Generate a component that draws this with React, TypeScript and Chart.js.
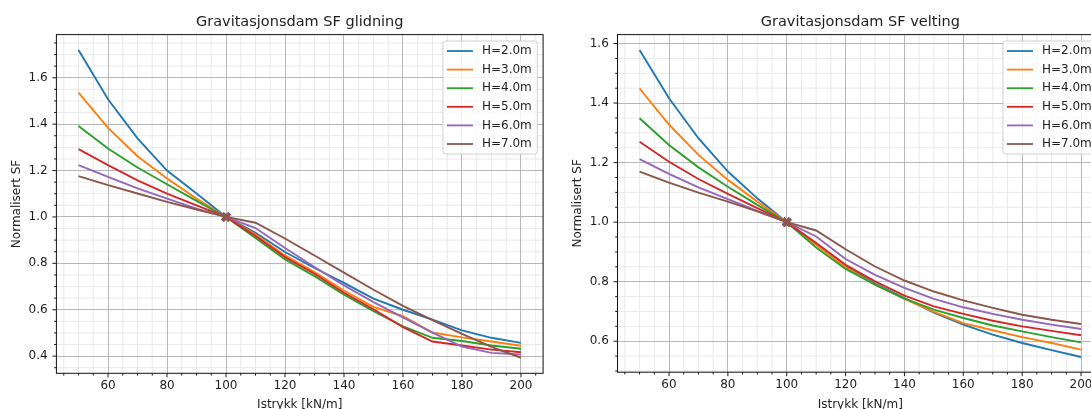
import React, { useEffect, useRef } from "react";
import { Chart, registerables } from "chart.js";

Chart.register(...registerables);

// ---------- data ----------
const istrykk = [50, 60, 70, 80, 90, 100, 110, 120, 130, 140, 150, 160, 170, 180, 190, 200];
const seriesLabels = ["H=2.0m", "H=3.0m", "H=4.0m", "H=5.0m", "H=6.0m", "H=7.0m"];
const seriesColors = ["#1f77b4", "#ff7f0e", "#2ca02c", "#d62728", "#9467bd", "#8c564b"];

const glidningH2 = [1.72, 1.507, 1.339, 1.2, 1.101, 1.0, 0.932, 0.849, 0.78, 0.716, 0.648, 0.6, 0.557, 0.511, 0.479, 0.457];
const glidningH3 = [1.536, 1.384, 1.262, 1.166, 1.079, 1.0, 0.924, 0.834, 0.762, 0.683, 0.612, 0.572, 0.502, 0.481, 0.463, 0.445];
const glidningH4 = [1.392, 1.295, 1.213, 1.141, 1.069, 1.0, 0.909, 0.817, 0.745, 0.665, 0.594, 0.528, 0.479, 0.465, 0.446, 0.432];
const glidningH5 = [1.292, 1.223, 1.158, 1.101, 1.05, 1.0, 0.918, 0.827, 0.755, 0.673, 0.602, 0.525, 0.463, 0.446, 0.428, 0.417];
const glidningH6 = [1.223, 1.173, 1.123, 1.079, 1.036, 1.0, 0.952, 0.866, 0.784, 0.705, 0.633, 0.567, 0.501, 0.441, 0.414, 0.407];
const glidningH7 = [1.176, 1.137, 1.101, 1.065, 1.032, 1.0, 0.975, 0.907, 0.834, 0.76, 0.686, 0.617, 0.555, 0.496, 0.44, 0.393];

const veltingH2 = [1.578, 1.416, 1.282, 1.17, 1.08, 1.0, 0.927, 0.853, 0.794, 0.745, 0.696, 0.656, 0.622, 0.594, 0.57, 0.547];
const veltingH3 = [1.449, 1.328, 1.226, 1.142, 1.069, 1.0, 0.924, 0.849, 0.79, 0.742, 0.699, 0.661, 0.637, 0.614, 0.594, 0.572];
const veltingH4 = [1.349, 1.259, 1.184, 1.119, 1.058, 1.0, 0.915, 0.843, 0.79, 0.743, 0.706, 0.678, 0.653, 0.633, 0.614, 0.596];
const veltingH5 = [1.27, 1.203, 1.145, 1.095, 1.047, 1.0, 0.93, 0.857, 0.801, 0.753, 0.717, 0.692, 0.669, 0.65, 0.635, 0.62];
const veltingH6 = [1.212, 1.162, 1.117, 1.077, 1.038, 1.0, 0.952, 0.876, 0.823, 0.779, 0.742, 0.714, 0.692, 0.672, 0.656, 0.641];
const veltingH7 = [1.17, 1.133, 1.099, 1.069, 1.036, 1.0, 0.972, 0.909, 0.851, 0.804, 0.767, 0.737, 0.712, 0.689, 0.672, 0.658];

const glidningSeries = [glidningH2, glidningH3, glidningH4, glidningH5, glidningH6, glidningH7];
const veltingSeries = [veltingH2, veltingH3, veltingH4, veltingH5, veltingH6, veltingH7];

const xRange = [42.5, 207.5];
const glidningYRange = [0.326, 1.786];
const veltingYRange = [0.496, 1.63];
const xMajorStep = 20;
const xMinorStep = 5;
const yMajorStep = 0.2;
const yMinorStep = 0.05;
const referenceX = 100;

// ---------- styling ----------
const FONT = "'DejaVu Sans', sans-serif";
const FS = 12;
const TEXT = "#1e1e1e";

function isMajor(v: number, step: number) {
  return Math.abs(v / step - Math.round(v / step)) < 1e-6;
}

function stepsIn(min: number, max: number, step: number) {
  const out: number[] = [];
  for (let i = Math.ceil(min / step - 1e-9); i * step <= max + 1e-9; i++) out.push(i * step);
  return out;
}

function roundRect(ctx: CanvasRenderingContext2D, x: number, y: number, w: number, h: number, r: number) {
  ctx.beginPath();
  ctx.moveTo(x + r, y);
  ctx.arcTo(x + w, y, x + w, y + h, r);
  ctx.arcTo(x + w, y + h, x, y + h, r);
  ctx.arcTo(x, y + h, x, y, r);
  ctx.arcTo(x, y, x + w, y, r);
  ctx.closePath();
}

const mplPlugin = {
  id: "mpl",
  beforeDraw(chart: any) {
    const { ctx, chartArea: a, scales } = chart;
    const x = scales.x;
    const y = scales.y;
    ctx.save();
    ctx.strokeStyle = "#e6e6e6";
    ctx.lineWidth = 0.9;
    for (const v of stepsIn(x.min, x.max, xMinorStep)) {
      if (isMajor(v, xMajorStep)) continue;
      const p = x.getPixelForValue(v);
      ctx.beginPath();
      ctx.moveTo(p, a.top);
      ctx.lineTo(p, a.bottom);
      ctx.stroke();
    }
    for (const v of stepsIn(y.min, y.max, yMinorStep)) {
      if (isMajor(v, yMajorStep)) continue;
      const p = y.getPixelForValue(v);
      ctx.beginPath();
      ctx.moveTo(a.left, p);
      ctx.lineTo(a.right, p);
      ctx.stroke();
    }
    ctx.restore();
  },
  afterDatasetsDraw(chart: any) {
    const { ctx, chartArea: a, scales } = chart;
    const x = scales.x;
    const y = scales.y;
    ctx.save();
    // tick marks
    ctx.strokeStyle = "#000";
    ctx.lineWidth = 0.9;
    for (const v of stepsIn(x.min, x.max, xMinorStep)) {
      const len = isMajor(v, xMajorStep) ? 4 : 2.3;
      const p = x.getPixelForValue(v);
      ctx.beginPath();
      ctx.moveTo(p, a.bottom);
      ctx.lineTo(p, a.bottom + len);
      ctx.stroke();
    }
    for (const v of stepsIn(y.min, y.max, yMinorStep)) {
      const len = isMajor(v, yMajorStep) ? 4 : 2.3;
      const p = y.getPixelForValue(v);
      ctx.beginPath();
      ctx.moveTo(a.left, p);
      ctx.lineTo(a.left - len, p);
      ctx.stroke();
    }
    // spines
    ctx.strokeStyle = "#111";
    ctx.lineWidth = 1;
    ctx.strokeRect(a.left, a.top, a.right - a.left, a.bottom - a.top);

    // legend (upper right)
    const ds = chart.data.datasets;
    ctx.font = `${FS}px ${FONT}`;
    let tw = 0;
    ds.forEach((d: any) => (tw = Math.max(tw, ctx.measureText(d.label).width)));
    const rowH = 18.6;
    const w = 4 + 26 + 9 + tw + 5.5;
    const h = 10 + rowH * (ds.length - 1) + 10;
    const right = a.right - 5.8;
    const left = right - w;
    const top = a.top + 6.4;
    roundRect(ctx, left, top, w, h, 2.5);
    ctx.fillStyle = "rgba(255,255,255,0.8)";
    ctx.fill();
    ctx.strokeStyle = "#cccccc";
    ctx.lineWidth = 0.9;
    ctx.stroke();
    ds.forEach((d: any, i: number) => {
      const cy = top + 10 + i * rowH;
      ctx.strokeStyle = d.borderColor;
      ctx.lineWidth = 1.8;
      ctx.beginPath();
      ctx.moveTo(left + 4, cy);
      ctx.lineTo(left + 30, cy);
      ctx.stroke();
      ctx.fillStyle = TEXT;
      ctx.textAlign = "left";
      ctx.textBaseline = "middle";
      ctx.fillText(d.label, left + 39, cy);
    });
    ctx.restore();
  },
};

type PanelProps = {
  title: string;
  series: number[][];
  yRange: number[];
  left: number;
  width: number;
  yScaleWidth: number;
  yTitlePad: number;
  padRight: number;
  xAxisHeight: number;
};

function Panel(p: PanelProps) {
  const ref = useRef<HTMLCanvasElement | null>(null);
  useEffect(() => {
    if (!ref.current) return;
    const font = { family: FONT, size: FS };
    const chart = new Chart(ref.current, {
      type: "line",
      data: {
        datasets: p.series.map((vals, i) => ({
          label: seriesLabels[i],
          data: istrykk.map((xv, j) => ({ x: xv, y: vals[j] })),
          borderColor: seriesColors[i],
          backgroundColor: seriesColors[i],
          borderWidth: 1.9,
          tension: 0,
          fill: false,
          pointStyle: "crossRot",
          pointRadius: (c: any) => (istrykk[c.dataIndex] === referenceX ? 5 : 0),
          pointBorderWidth: 3.6,
          pointBorderColor: seriesColors[i],
          order: p.series.length - i,
        })),
      },
      options: {
        responsive: false,
        animation: false,
        devicePixelRatio: 1,
        events: [],
        layout: { padding: { left: 0, right: p.padRight, top: 0, bottom: 0 } },
        plugins: {
          legend: { display: false },
          tooltip: { enabled: false },
          title: {
            display: true,
            text: p.title,
            fullSize: false,
            color: TEXT,
            font: { family: FONT, size: 14.5, weight: "normal" },
            padding: { top: 14, bottom: 3.2 },
          },
        },
        scales: {
          x: {
            type: "linear",
            min: xRange[0],
            max: xRange[1],
            afterFit: (s: any) => {
              s.height = p.xAxisHeight;
            },
            ticks: {
              stepSize: xMajorStep,
              includeBounds: false,
              autoSkip: false,
              maxRotation: 0,
              padding: 5.7,
              font,
              color: TEXT,
              callback: (v: any) => String(v),
            },
            grid: { color: "#b0b0b0", lineWidth: 0.9, drawTicks: false },
            border: { display: false },
            title: {
              display: true,
              text: "Istrykk [kN/m]",
              font,
              color: TEXT,
              padding: { top: 0, bottom: -3 },
            },
          },
          y: {
            type: "linear",
            min: p.yRange[0],
            max: p.yRange[1],
            afterFit: (s: any) => {
              s.width = p.yScaleWidth;
            },
            ticks: {
              stepSize: yMajorStep,
              includeBounds: false,
              autoSkip: false,
              padding: 8.7,
              font,
              color: TEXT,
              callback: (v: any) => Number(v).toFixed(1),
            },
            grid: { color: "#b0b0b0", lineWidth: 0.9, drawTicks: false },
            border: { display: false },
            title: {
              display: true,
              text: "Normalisert SF",
              font,
              color: TEXT,
              padding: { top: p.yTitlePad, bottom: 0 },
            },
          },
        },
      } as any,
      plugins: [mplPlugin as any],
    });
    return () => chart.destroy();
  }, []);
  return (
    <canvas
      ref={ref}
      width={p.width}
      height={409}
      style={{ position: "absolute", left: p.left, top: 0, width: p.width, height: 409 }}
    />
  );
}

export default function App() {
  return (
    <div
      style={{
        position: "fixed",
        left: 0,
        top: 0,
        width: 1091,
        height: 409,
        overflow: "hidden",
        background: "#ffffff",
      }}
    >
      <Panel
        title="Gravitasjonsdam SF glidning"
        series={glidningSeries}
        yRange={glidningYRange}
        left={0}
        width={560}
        yScaleWidth={56.4}
        yTitlePad={10.1}
        padRight={16.9}
        xAxisHeight={35.7}
      />
      <Panel
        title="Gravitasjonsdam SF velting"
        series={veltingSeries}
        yRange={veltingYRange}
        left={540}
        width={600}
        yScaleWidth={77.5}
        yTitlePad={30.3}
        padRight={36.9}
        xAxisHeight={36.8}
      />
    </div>
  );
}
